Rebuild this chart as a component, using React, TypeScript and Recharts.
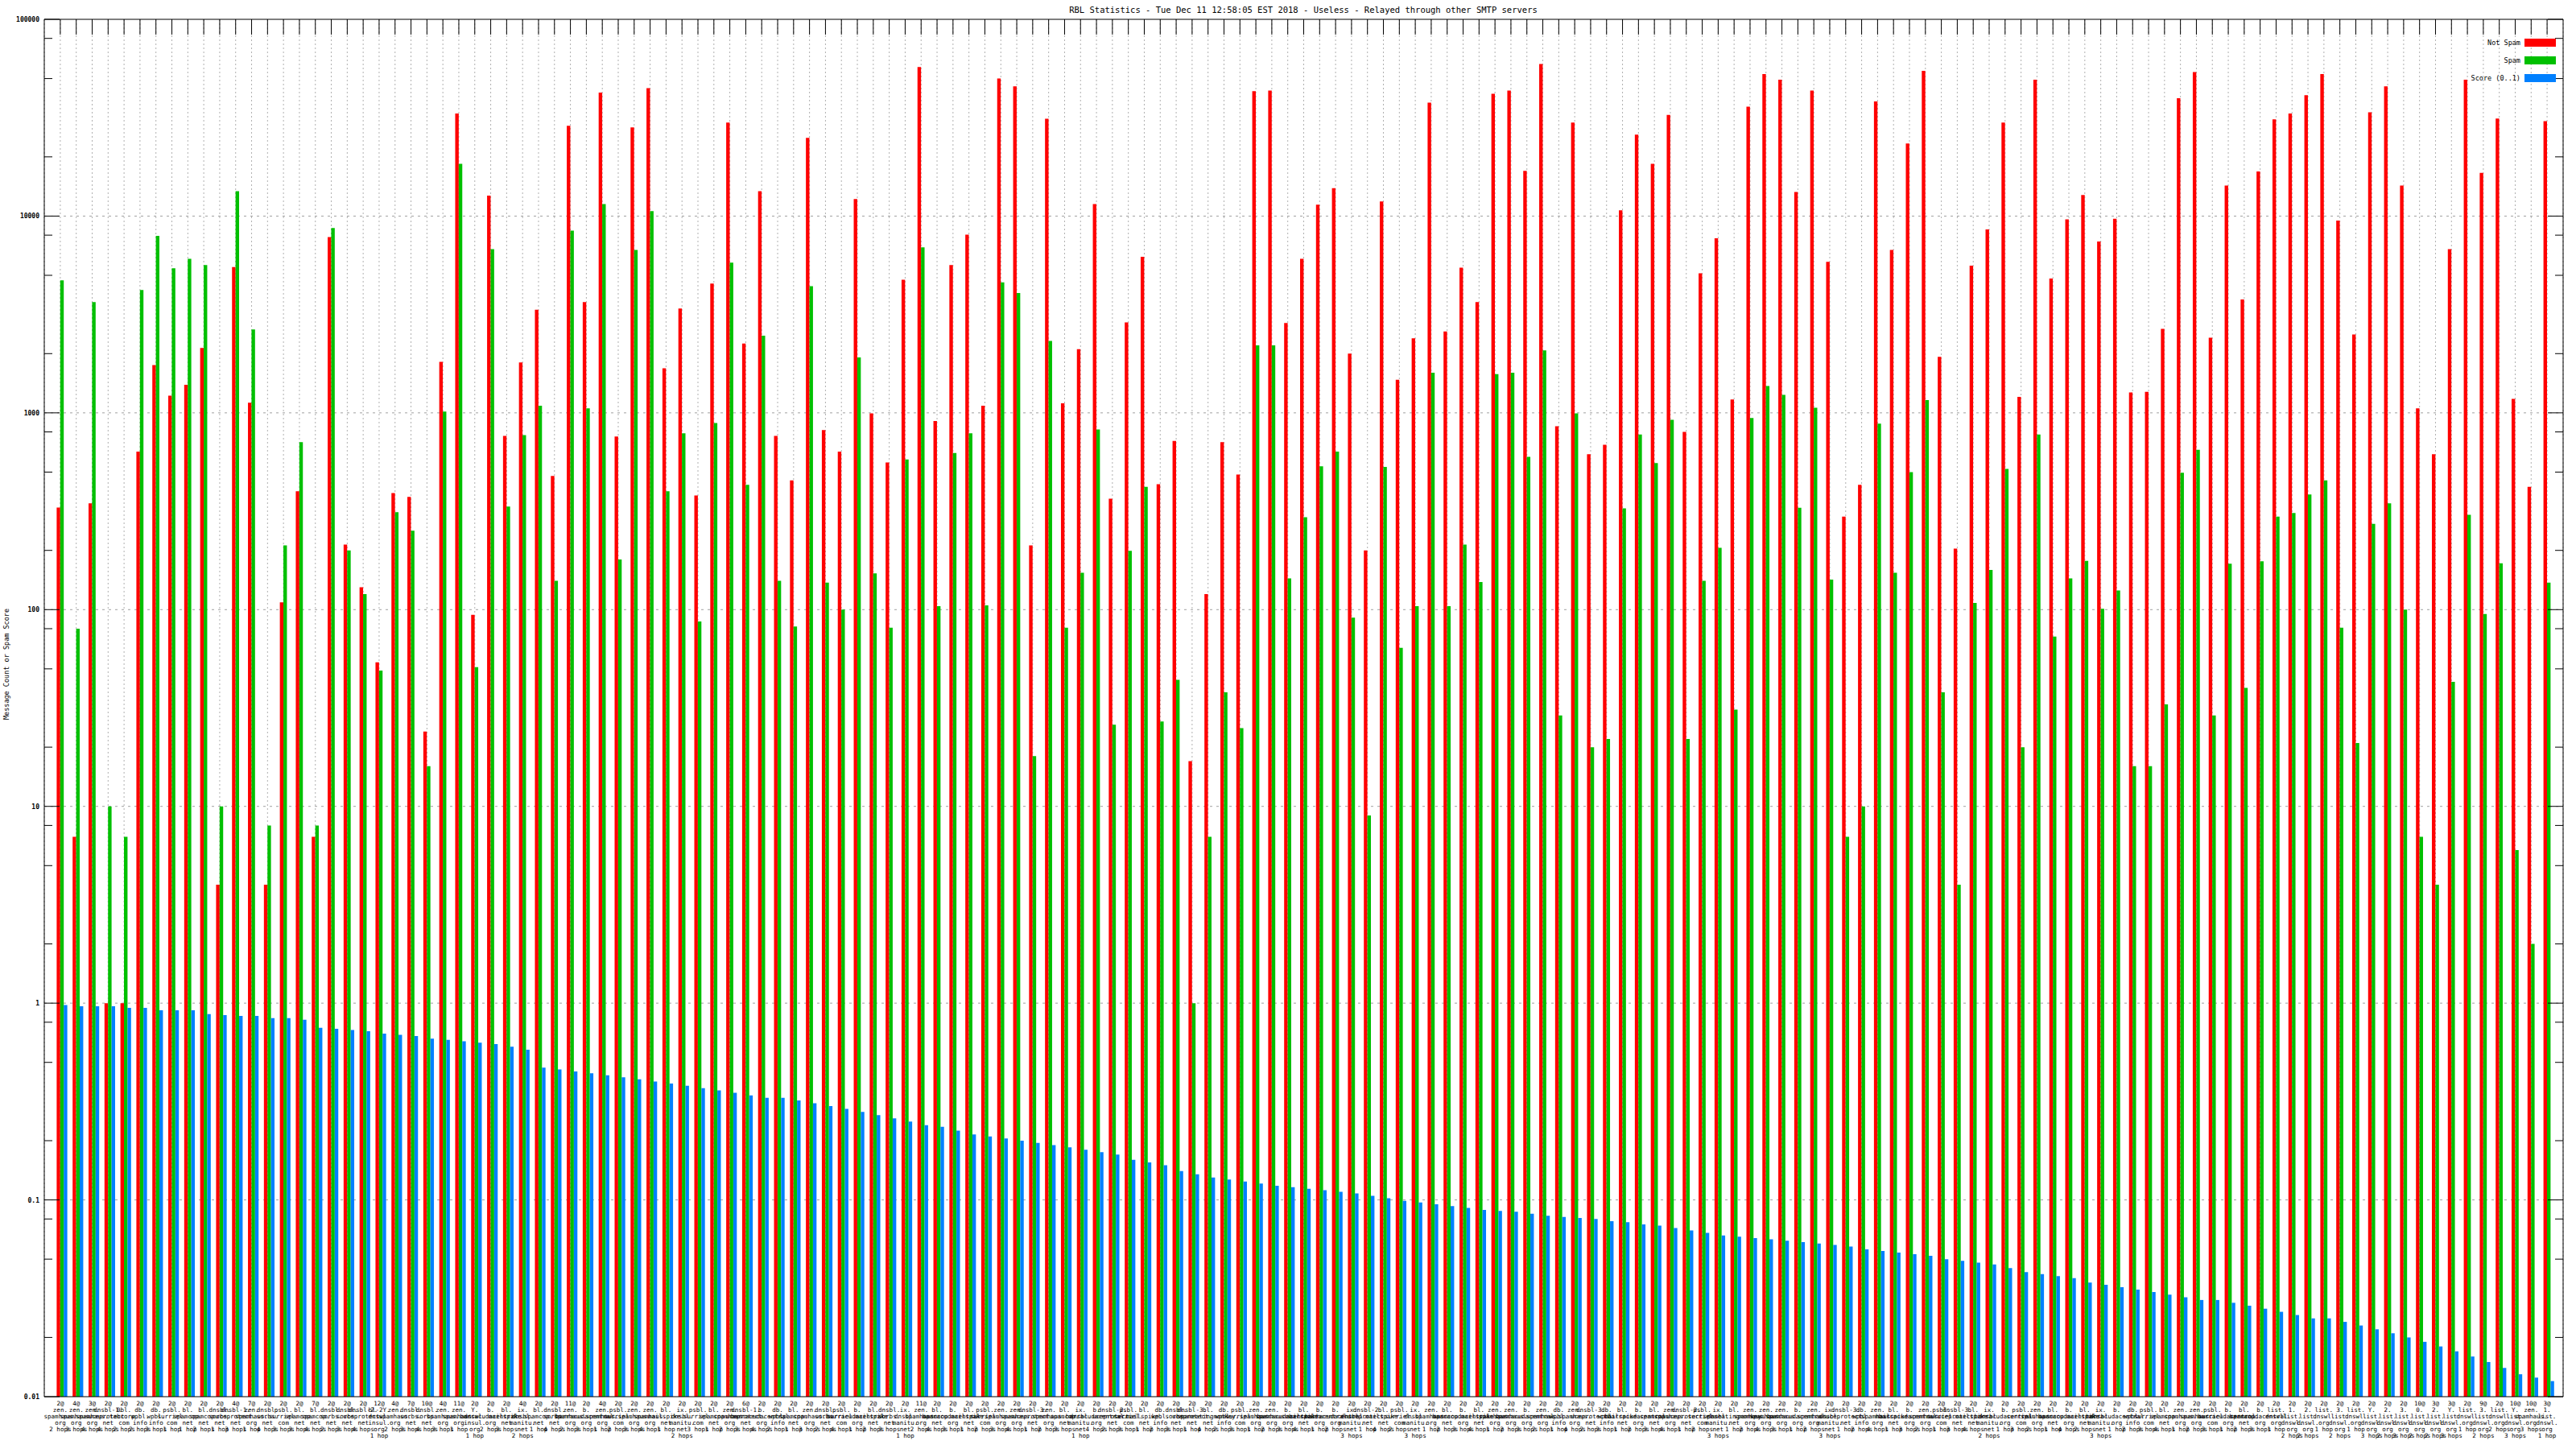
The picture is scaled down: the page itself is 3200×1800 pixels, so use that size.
import React from 'react'
import { BarChart, Bar, XAxis, YAxis, CartesianGrid, ReferenceLine } from 'recharts'

const PLOT_LEFT = 55
const PLOT_RIGHT = 3184
const PLOT_TOP = 24
const PLOT_BOTTOM = 1735
const mono = '"DejaVu Sans Mono", monospace'

// first label line: number of relays ("2@")
const counts = [
  2, 4, 3, 2, 2, 2, 2, 2, 2, 2,
  2, 4, 7, 2, 2, 2, 7, 2, 2, 2,
  12, 4, 7, 10, 4, 11, 2, 2, 2, 4,
  2, 2, 11, 2, 4, 2, 2, 2, 2, 2,
  2, 2, 2, 6, 2, 2, 2, 2, 2, 2,
  2, 2, 2, 2, 11, 2, 2, 2, 2, 2,
  2, 2, 2, 2, 2, 2, 2, 2, 2, 2,
  2, 2, 2, 2, 2, 2, 2, 2, 2, 2,
  2, 2, 2, 2, 2, 2, 2, 2, 2, 2,
  2, 2, 2, 2, 2, 2, 2, 2, 2, 2,
  2, 2, 2, 2, 2, 2, 2, 2, 2, 2,
  2, 2, 2, 2, 2, 2, 2, 2, 2, 2,
  2, 2, 2, 2, 2, 2, 2, 2, 2, 2,
  2, 2, 2, 2, 2, 2, 2, 2, 2, 2,
  2, 2, 2, 2, 2, 2, 2, 2, 10, 3,
  3, 2, 9, 2, 10, 10, 3,
]

const hosts = [
  'zen.spamhaus.org', 'zen.spamhaus.org', 'zen.spamhaus.org', 'dnsbl-1.uceprotect.net', '0bl.tabcorp.com', 'db.wpbl.info', 'db.wpbl.info', 'psbl.surriel.com', 'bl.spamcop.net', 'bl.spamcop.net',
  'dnsbl.sorbs.net', 'dnsbl-1.uceprotect.net', 'zen.spamhaus.org', 'dnsbl.sorbs.net', 'psbl.surriel.com', 'bl.spamcop.net', 'bl.spamcop.net', 'dnsbl.sorbs.net', 'dnsbl.sorbs.net', 'dnsbl-2.uceprotect.net',
  'bl-2Y.dnswl.insul.org', 'zen.spamhaus.org', 'dnsbl.sorbs.net', 'dnsbl.sorbs.net', 'zen.spamhaus.org', 'zen.spamhaus.org', 'Y.dnswl.insul.org', 'b.barracudacentral.org', 'bl.mailspike.net', 'ix.dnsbl.manitu.net',
  'bl.spamcop.net', 'dnsbl.sorbs.net', 'zen.spamhaus.org', 'b.barracudacentral.org', 'zen.spamhaus.org', 'psbl.surriel.com', 'zen.spamhaus.org', 'zen.spamhaus.org', 'bl.mailspike.net', 'ix.dnsbl.manitu.net',
  'psbl.surriel.com', 'bl.spamcop.net', 'zen.spamhaus.org', 'dnsbl-1.uceprotect.net', 'b.barracudacentral.org', 'db.wpbl.info', 'bl.spamcop.net', 'zen.spamhaus.org', 'dnsbl.sorbs.net', 'psbl.surriel.com',
  'b.barracudacentral.org', 'bl.mailspike.net', 'dnsbl.sorbs.net', 'ix.dnsbl.manitu.net', 'zen.spamhaus.org', 'bl.spamcop.net', 'b.barracudacentral.org', 'bl.mailspike.net', 'psbl.surriel.com', 'zen.spamhaus.org',
  'zen.spamhaus.org', 'dnsbl-3.uceprotect.net', 'zen.spamhaus.org', 'bl.spamcop.net', 'ix.dnsbl.manitu.net', 'b.barracudacentral.org', 'dnsbl-2.uceprotect.net', 'psbl.surriel.com', 'bl.mailspike.net', 'db.wpbl.info',
  'dnsbl.sorbs.net', 'dnsbl-3.uceprotect.net', 'bl.spameatingmonkey.net', 'db.wpbl.info', 'psbl.surriel.com', 'zen.spamhaus.org', 'zen.spamhaus.org', 'b.barracudacentral.org', 'bl.mailspike.net', 'b.barracudacentral.org',
  'b.barracudacentral.org', 'ix.dnsbl.manitu.net', 'dnsbl-2.uceprotect.net', 'bl.mailspike.net', 'psbl.surriel.com', 'ix.dnsbl.manitu.net', 'zen.spamhaus.org', 'bl.spamcop.net', 'b.barracudacentral.org', 'bl.mailspike.net',
  'zen.spamhaus.org', 'zen.spamhaus.org', 'b.barracudacentral.org', 'zen.spamhaus.org', 'db.wpbl.info', 'zen.spamhaus.org', 'dnsbl-3.uceprotect.net', 'db.wpbl.info', 'bl.mailspike.net', 'b.barracudacentral.org',
  'bl.spamcop.net', 'zen.spamhaus.org', 'dnsbl-2.uceprotect.net', 'psbl.surriel.com', 'ix.dnsbl.manitu.net', 'bl.spameatingmonkey.net', 'zen.spamhaus.org', 'zen.spamhaus.org', 'zen.spamhaus.org', 'b.barracudacentral.org',
  'zen.spamhaus.org', 'ix.dnsbl.manitu.net', 'dnsbl-3.uceprotect.net', 'db.wpbl.info', 'zen.spamhaus.org', 'bl.mailspike.net', 'b.barracudacentral.org', 'zen.spamhaus.org', 'psbl.surriel.com', 'dnsbl-3.uceprotect.net',
  'bl.mailspike.net', 'ix.dnsbl.manitu.net', 'b.barracudacentral.org', 'psbl.surriel.com', 'zen.spamhaus.org', 'bl.spamcop.net', 'b.barracudacentral.org', 'bl.mailspike.net', 'ix.dnsbl.manitu.net', 'b.barracudacentral.org',
  'db.wpbl.info', 'psbl.surriel.com', 'bl.spamcop.net', 'zen.spamhaus.org', 'zen.spamhaus.org', 'psbl.surriel.com', 'b.barracudacentral.org', 'bl.spamcop.net', 'b.barracudacentral.org', 'list.dnswl.org',
  '1.list.dnswl.org', '2.list.dnswl.org', 'list.dnswl.org', '3.list.dnswl.org', 'list.dnswl.org', 'Y.list.dnswl.org', '2.list.dnswl.org', '3.list.dnswl.org', '0.list.dnswl.org', '2.list.dnswl.org',
  'Y.list.dnswl.org', 'list.dnswl.org', '3.list.dnswl.org', 'list.dnswl.org', 'Y.list.dnswl.org', 'zen.spamhaus.org', '1.list.dnswl.org',
]

const hops = [
  2, 3, 4, 4, 2, 2, 3, 1, 1, 2,
  1, 3, 1, 4, 3, 3, 4, 2, 3, 4,
  1, 2, 3, 4, 3, 1, 1, 2, 3, 2,
  1, 4, 2, 3, 1, 2, 3, 4, 1, 2,
  3, 1, 2, 3, 4, 2, 1, 3, 2, 4,
  1, 2, 3, 1, 2, 4, 3, 1, 2, 3,
  4, 1, 2, 3, 1, 4, 2, 3, 1, 2,
  3, 1, 4, 2, 3, 1, 2, 3, 4, 1,
  2, 3, 1, 4, 2, 3, 1, 2, 3, 4,
  1, 2, 3, 2, 1, 4, 2, 3, 1, 2,
  3, 4, 1, 2, 3, 1, 2, 4, 3, 1,
  2, 3, 1, 2, 4, 1, 3, 2, 1, 3,
  4, 2, 1, 3, 2, 1, 4, 2, 3, 1,
  2, 3, 4, 1, 2, 3, 1, 2, 3, 1,
  2, 2, 1, 2, 1, 3, 2, 3, 2, 2,
  3, 1, 2, 2, 3, 3, 1,
]

const notSpam = [
  330, 7, 347, 1, 1, 635, 1750, 1222, 1388, 2138,
  4, 5510, 1127, 4, 109, 400, 7, 7820, 214, 130,
  54, 391, 374, 24, 1815, 33200, 94, 12700, 764, 1802,
  3343, 478, 28800, 3656, 42400, 759, 28200, 44700, 1686, 3394,
  380, 4540, 29900, 2253, 13370, 764, 454, 25000, 818, 635,
  12220, 993, 559, 4745, 57200, 908, 5636, 8050, 1086, 50000,
  45700, 212, 31260, 1119, 2108, 11520, 366, 2882, 6210, 434,
  720, 17, 120, 710, 486, 43100, 43400, 2860, 6070, 11440,
  13870, 2000, 200, 11870, 1473, 2391, 37700, 2595, 5470, 3656,
  41800, 43400, 16980, 59300, 855, 29900, 616, 689, 10700, 25950,
  18420, 32700, 800, 5115, 7710, 1169, 36000, 52700, 49300, 13270,
  43400, 5850, 297, 431, 38250, 6730, 23390, 54700, 1927, 204,
  5595, 8550, 29900, 1205, 49300, 4820, 9630, 12790, 7430, 9700,
  1270, 1279, 2674, 39700, 53900, 2409, 14300, 3767, 16850, 31000,
  33200, 41200, 52700, 9490, 2500, 33700, 45700, 14300, 1054, 616,
  6790, 49300, 16600, 31300, 1178, 421, 30350,
]

const spam = [
  4710, 80, 3656, 10, 7, 4215, 7940, 5430, 6070, 5636,
  10, 13370, 2655, 8, 212, 710, 8, 8690, 200, 120,
  49, 313, 252, 16, 1015, 18420, 51, 6790, 334, 770,
  1086, 140, 8430, 1054, 11520, 180, 6730, 10600, 400, 788,
  87, 888, 5800, 431, 2465, 140, 82, 4405, 137, 100,
  1914, 153, 81, 580, 6940, 104, 625, 788, 105, 4610,
  4060, 18, 2322, 81, 154, 824, 26, 199, 421, 27,
  44, 1, 7, 38, 25, 2204, 2204, 144, 295, 535,
  635, 91, 9, 531, 64, 104, 1600, 104, 214, 138,
  1575, 1600, 598, 2075, 29, 993, 20, 22, 327, 776,
  555, 921, 22, 140, 206, 31, 942, 1368, 1233, 329,
  1061, 142, 7, 10, 881, 154, 500, 1161, 38, 4,
  108, 159, 519, 20, 776, 73, 144, 177, 101, 125,
  16, 16, 33, 496, 649, 29, 171, 40, 176, 297,
  310, 385, 454, 81, 21, 273, 347, 100, 7, 4,
  43, 303, 95, 172, 6, 2, 137,
]

const score = [
  0.977, 0.965, 0.965, 0.965, 0.947, 0.947, 0.921, 0.921, 0.921, 0.879,
  0.869, 0.862, 0.862, 0.839, 0.839, 0.823, 0.749, 0.74, 0.73, 0.72,
  0.7, 0.69, 0.68, 0.66, 0.65, 0.64, 0.63, 0.62, 0.6, 0.58,
  0.47, 0.46, 0.45, 0.44, 0.43, 0.42, 0.41, 0.4, 0.39, 0.38,
  0.37, 0.36, 0.35, 0.34, 0.33, 0.33, 0.32, 0.31, 0.3, 0.29,
  0.28, 0.27, 0.26, 0.25, 0.24, 0.235, 0.225, 0.215, 0.21, 0.205,
  0.2, 0.195, 0.19, 0.185, 0.18, 0.175, 0.17, 0.16, 0.155, 0.15,
  0.14, 0.135, 0.13, 0.127, 0.124, 0.121, 0.118, 0.116, 0.114, 0.112,
  0.11, 0.108, 0.105, 0.102, 0.099, 0.097, 0.095, 0.093, 0.091, 0.089,
  0.088, 0.087, 0.085, 0.083, 0.082, 0.081, 0.08, 0.078, 0.077, 0.075,
  0.074, 0.072, 0.07, 0.068, 0.066, 0.065, 0.064, 0.063, 0.062, 0.061,
  0.06, 0.059, 0.058, 0.056, 0.055, 0.054, 0.053, 0.052, 0.05, 0.049,
  0.048, 0.047, 0.045, 0.043, 0.042, 0.041, 0.04, 0.038, 0.037, 0.036,
  0.035, 0.034, 0.033, 0.032, 0.031, 0.031, 0.03, 0.029, 0.028, 0.027,
  0.026, 0.025, 0.025, 0.024, 0.023, 0.022, 0.021, 0.02, 0.019, 0.018,
  0.017, 0.016, 0.015, 0.014, 0.013, 0.0125, 0.012,
]

const decades = [0.01, 0.1, 1, 10, 100, 1000, 10000, 100000]
const decadeLabels = ['0.01', '0.1', '1', '10', '100', '1000', '10000', '100000']
const minorTicks = [
  0.02, 0.05, 0.08, 0.2, 0.5, 0.8, 2, 5, 8, 20, 50, 80,
  200, 500, 800, 2000, 5000, 8000, 20000, 50000, 80000,
]
const gridValues = [0.1, 1, 10, 100, 1000, 10000]

const data = notSpam.map((v, i) => ({
  idx: String(i),
  pad: null,
  notSpam: v,
  spam: spam[i],
  score: score[i],
}))

function labelLines(i: number) {
  const parts = hosts[i].split('.')
  const hostLines = parts.map((p, k) => (k < parts.length - 1 ? p + '.' : p))
  const h = hops[i]
  return [`${counts[i]}@`, ...hostLines, `${h} ${h === 1 ? 'hop' : 'hops'}`]
}

const XTick = (props: any) => {
  const { x, payload } = props
  const i = Number(payload.value)
  const lines = labelLines(i)
  return (
    <g>
      <line x1={x} x2={x} y1={PLOT_TOP} y2={PLOT_TOP + 19} stroke="#000" strokeWidth={1} />
      <text x={x} y={PLOT_BOTTOM + 11} textAnchor="middle" fontFamily={mono} fontSize={7.5} fill="#000">
        {lines.map((l, k) => (
          <tspan key={k} x={x} dy={k === 0 ? 0 : 8}>
            {l}
          </tspan>
        ))}
      </text>
    </g>
  )
}

const YTick = (props: any) => {
  const { y, payload } = props
  const k = decades.indexOf(payload.value)
  const len = k >= 0 ? 19 : 10
  return (
    <g>
      <line x1={PLOT_LEFT} x2={PLOT_LEFT + len} y1={y} y2={y} stroke="#000" />
      <line x1={PLOT_RIGHT - len} x2={PLOT_RIGHT} y1={y} y2={y} stroke="#000" />
      {k >= 0 && (
        <text x={PLOT_LEFT - 6} y={y} dy={3} textAnchor="end" fontFamily={mono} fontSize={8} fontWeight="bold" fill="#000">
          {decadeLabels[k]}
        </text>
      )}
    </g>
  )
}

const legendItems = [
  { label: 'Not Spam', color: '#ff0000', y: 53 },
  { label: 'Spam', color: '#00c000', y: 75 },
  { label: 'Score (0..1)', color: '#0080ff', y: 97 },
]

export default function App() {
  return (
    <div style={{ position: 'absolute', left: 0, top: 0, width: 3200, height: 1800, background: '#fff' }}>
      <BarChart
        width={3200}
        height={1800}
        data={data}
        barGap={0}
        margin={{ top: PLOT_TOP, right: 15, bottom: 5, left: 5 }}
      >
        <CartesianGrid yAxisId="left" horizontal={true} vertical={false} horizontalValues={gridValues} stroke="#a0a0a0" strokeDasharray="3 5" />
        <CartesianGrid yAxisId="left" horizontal={false} vertical={true} stroke="#b0b0b0" strokeDasharray="2 3" />
        <XAxis
          dataKey="idx"
          interval={0}
          height={60}
          padding={{ left: 10, right: 10 }}
          tickLine={false}
          axisLine={{ stroke: '#000' }}
          tick={<XTick />}
        />
        <YAxis
          yAxisId="left"
          scale="log"
          domain={[0.01, 100000]}
          allowDataOverflow
          ticks={[...decades, ...minorTicks]}
          interval={0}
          width={50}
          tickLine={false}
          axisLine={{ stroke: '#000' }}
          tick={<YTick />}
        />
        <YAxis
          yAxisId="right"
          orientation="right"
          scale="log"
          domain={[0.01, 100000]}
          allowDataOverflow
          width={1}
          tick={false}
          tickLine={false}
          axisLine={{ stroke: '#000' }}
        />
        <ReferenceLine yAxisId="left" y={100000} stroke="#000" />
        <Bar yAxisId="left" dataKey="pad" fill="none" barSize={4.4} isAnimationActive={false} />
        <Bar yAxisId="left" dataKey="notSpam" fill="#ff0000" barSize={4.4} isAnimationActive={false} />
        <Bar yAxisId="left" dataKey="spam" fill="#00c000" barSize={4.4} isAnimationActive={false} />
        <Bar yAxisId="left" dataKey="score" fill="#0080ff" barSize={4.4} isAnimationActive={false} />
      </BarChart>

      <div
        style={{
          position: 'absolute',
          left: 1619,
          top: 6,
          transform: 'translateX(-50%)',
          whiteSpace: 'nowrap',
          fontFamily: mono,
          fontSize: 10.5,
          lineHeight: '12px',
          color: '#000',
        }}
      >
        RBL Statistics - Tue Dec 11 12:58:05 EST 2018 - Useless - Relayed through other SMTP servers
      </div>

      <div
        style={{
          position: 'absolute',
          left: 8,
          top: 825,
          transform: 'translate(-50%, -50%) rotate(-90deg)',
          whiteSpace: 'nowrap',
          fontFamily: mono,
          fontSize: 8.5,
          color: '#000',
        }}
      >
        Message Count or Spam Score
      </div>

      {legendItems.map((it) => (
        <React.Fragment key={it.label}>
          <div
            style={{
              position: 'absolute',
              right: 3200 - 3131,
              top: it.y - 6,
              lineHeight: '12px',
              whiteSpace: 'nowrap',
              fontFamily: mono,
              fontSize: 8.5,
              color: '#000',
            }}
          >
            {it.label}
          </div>
          <div
            style={{
              position: 'absolute',
              left: 3136,
              top: it.y - 5,
              width: 39,
              height: 10,
              background: it.color,
            }}
          />
        </React.Fragment>
      ))}
    </div>
  )
}
